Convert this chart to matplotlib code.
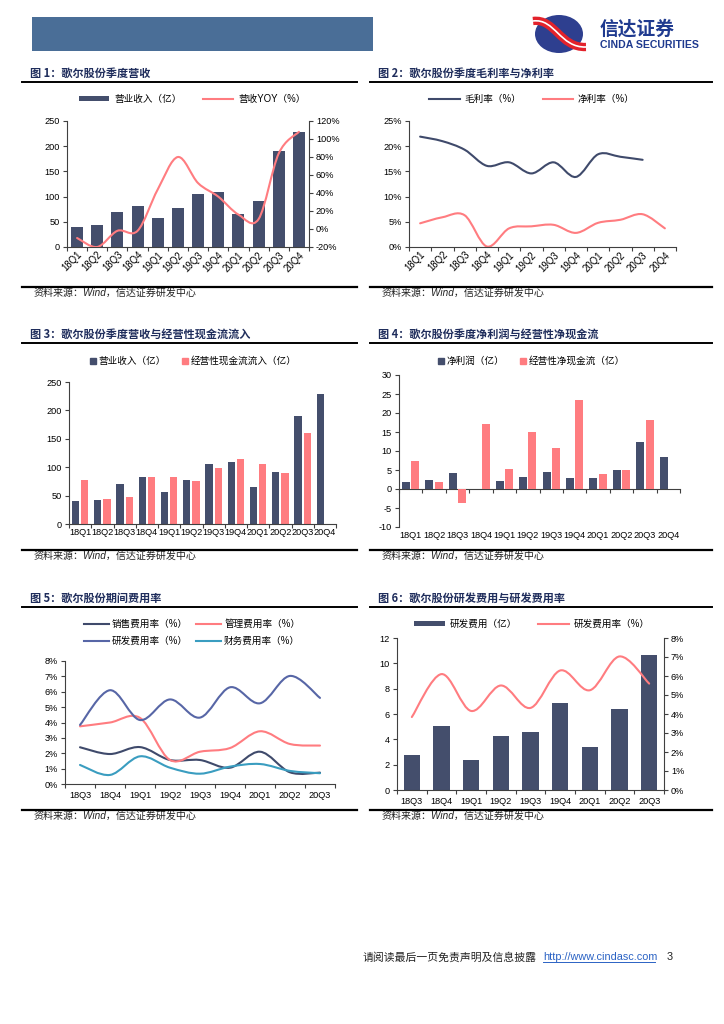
import numpy as np
import matplotlib
matplotlib.use("Agg")
import matplotlib.pyplot as plt
from matplotlib.lines import Line2D
from matplotlib.patches import Patch, PathPatch, Ellipse, Rectangle
from matplotlib.path import Path
from matplotlib.ticker import FuncFormatter

plt.rcParams['font.family'] = ['Liberation Sans', 'Noto Sans CJK SC', 'DejaVu Sans']
plt.rcParams['axes.unicode_minus'] = False

# ---- data ----
quarters = ['18Q1', '18Q2', '18Q3', '18Q4', '19Q1', '19Q2', '19Q3', '19Q4',
            '20Q1', '20Q2', '20Q3', '20Q4']
revenue = [40, 43, 70, 82, 57, 78, 105, 110, 65, 91, 191, 228]
revenue_yoy = [-10, -20, -2, -2, 44, 80, 51, 36, 16, 11, 84, 108]
gross_margin = [21.9, 21.0, 19.3, 16.1, 16.8, 14.6, 16.8, 13.9, 18.4, 17.9, 17.3]
net_margin = [4.7, 5.9, 6.3, 0.1, 3.7, 4.1, 4.4, 2.8, 4.8, 5.4, 6.5, 3.7]
cash_inflow = [77, 44, 48, 82, 82, 76, 99, 115, 106, 90, 160]
net_profit = [1.8, 2.4, 4.1, 0.0, 2.0, 3.2, 4.6, 3.0, 2.9, 4.9, 12.3, 8.4]
net_cash = [7.4, 1.9, -3.7, 17.0, 5.2, 15.1, 10.7, 23.4, 4.0, 5.0, 18.1]

quarters2 = ['18Q3', '18Q4', '19Q1', '19Q2', '19Q3', '19Q4', '20Q1', '20Q2', '20Q3']
sales_rate = [2.39, 1.95, 2.40, 1.56, 1.56, 1.06, 2.10, 0.76, 0.74]
admin_rate = [3.75, 4.00, 4.30, 1.56, 2.10, 2.34, 3.43, 2.60, 2.50]
rd_rate = [3.84, 6.10, 4.16, 5.50, 4.32, 6.29, 5.25, 7.03, 5.60]
fin_rate = [1.24, 0.59, 1.80, 1.06, 0.67, 1.13, 1.30, 0.85, 0.70]
rd_expense = [2.74, 5.04, 2.40, 4.30, 4.56, 6.86, 3.40, 6.36, 10.69]

NAVY = '#444e6c'
PINK = '#ff7c80'
BLUE = '#5766a6'
TEAL = '#3a9dc0'
AXC = '#404040'
TFS = 6.6
LFS = 6.9

W, H = 724, 1024
fig = plt.figure(figsize=(7.24, 10.24), dpi=100)


def fx(x):
    return x / W


def fy(y):
    return 1 - y / H


def add_ax(l, t, r, b):
    return fig.add_axes([l / W, 1 - b / H, (r - l) / W, (b - t) / H])


def hline(x1, x2, y, lw=1.4, color='black'):
    fig.add_artist(Line2D([fx(x1), fx(x2)], [fy(y), fy(y)], transform=fig.transFigure,
                          lw=lw, color=color))


def smooth(ax, xs, ys, color, lw=1.5):
    # Bezier smoothing of the line through the data points (Excel style)
    pts = list(zip(xs, ys))
    n = len(pts)
    verts = [pts[0]]
    codes = [Path.MOVETO]
    for i in range(n - 1):
        p0 = pts[i - 1] if i > 0 else pts[i]
        p1 = pts[i]
        p2 = pts[i + 1]
        p3 = pts[i + 2] if i + 2 < n else p2
        c1 = (p1[0] + (p2[0] - p0[0]) / 6, p1[1] + (p2[1] - p0[1]) / 6)
        c2 = (p2[0] - (p3[0] - p1[0]) / 6, p2[1] - (p3[1] - p1[1]) / 6)
        verts += [c1, c2, p2]
        codes += [Path.CURVE4] * 3
    ax.add_patch(PathPatch(Path(verts, codes), fill=False, edgecolor=color, lw=lw,
                           capstyle='round', joinstyle='round'))


def style(ax, labels, rot=False, pad=3):
    n = len(labels)
    for s in ['top', 'right']:
        ax.spines[s].set_visible(False)
    for s in ['left', 'bottom']:
        ax.spines[s].set_color(AXC)
        ax.spines[s].set_linewidth(0.8)
    ax.set_xlim(-0.5, n - 0.5)
    ax.set_xticks(np.arange(n + 1) - 0.5)
    ax.set_xticklabels([])
    ax.set_xticks(np.arange(n), minor=True)
    if rot:
        ax.set_xticklabels(labels, minor=True, rotation=45, ha='right',
                           rotation_mode='anchor', fontsize=TFS + 0.3)
    else:
        ax.set_xticklabels(labels, minor=True, fontsize=TFS)
    ax.tick_params(axis='x', which='major', length=3, width=0.8, color=AXC)
    ax.tick_params(axis='x', which='minor', length=0, pad=pad)
    ax.tick_params(axis='y', length=3, width=0.8, color=AXC, labelsize=TFS, pad=2)


pct = FuncFormatter(lambda v, p: '%d%%' % round(v))


def title(x, y, txt, x2):
    fig.text(fx(x), fy(y), txt, fontsize=8, fontweight='bold', color='#1f2d5c',
             va='center', ha='left', family=['Noto Sans CJK SC', 'DejaVu Sans'])
    hline(x - 8, x2, y + 9, lw=1.4)


def source(x, y, x2):
    hline(x - 8, x2, y - 6, lw=1.6)
    fig.text(fx(x + 4), fy(y), '资料来源：Wind，信达证券研发中心', fontsize=7.2, style='italic',
             color='#222222', va='center', ha='left')


# ---- header ----
fig.add_artist(Rectangle((fx(32), fy(51)), (373 - 32) / W, 34 / H, transform=fig.transFigure,
                         fc='#4a6e97', ec='none'))
fig.add_artist(Ellipse((fx(559), fy(34)), 48 / W, 38 / H, transform=fig.transFigure,
                       fc='#2e3f8f', ec='none'))
sw = Path([(fx(533), fy(21)), (fx(555), fy(18)), (fx(560), fy(48)), (fx(586), fy(47))],
          [Path.MOVETO, Path.CURVE4, Path.CURVE4, Path.CURVE4])
fig.add_artist(PathPatch(sw, transform=fig.transFigure, fill=False, ec='#e3222b', lw=6))
fig.add_artist(PathPatch(sw, transform=fig.transFigure, fill=False, ec='white', lw=1.2))
fig.text(fx(600), fy(29), '信达证券', fontsize=13.5, fontweight='bold', color='#1f3a8f',
         va='center', ha='left', family=['Noto Sans CJK SC', 'DejaVu Sans'])
fig.text(fx(600), fy(44.5), 'CINDA SECURITIES', fontsize=7.6, fontweight='bold',
         color='#1f3a8f', va='center', ha='left')

# ---- chart 1 ----
title(30, 73, '图 1：歌尔股份季度营收', 357)
ax1 = add_ax(67, 121, 309, 247)
x12 = np.arange(len(quarters))
ax1.bar(x12, revenue, width=0.6, color=NAVY, zorder=2)
ax1.set_ylim(0, 250)
ax1.set_yticks(np.arange(0, 251, 50))
style(ax1, quarters, rot=True, pad=2)
ax1b = ax1.twinx()
ax1b.set_ylim(-20, 120)
ax1b.set_yticks(np.arange(-20, 121, 20))
ax1b.yaxis.set_major_formatter(pct)
for s in ['top', 'left', 'bottom']:
    ax1b.spines[s].set_visible(False)
ax1b.spines['right'].set_color(AXC)
ax1b.spines['right'].set_linewidth(0.8)
ax1b.tick_params(axis='y', length=3, width=0.8, color=AXC, labelsize=TFS, pad=2)
smooth(ax1b, x12, revenue_yoy, PINK)
fig.legend([Patch(fc=NAVY), Line2D([], [], color=PINK, lw=1.5)],
           ['营业收入（亿）', '营收YOY（%）'], loc='center', bbox_to_anchor=(fx(192), fy(99)),
           ncol=2, frameon=False, fontsize=LFS, handlelength=3.2, handleheight=0.55,
           columnspacing=2.2, handletextpad=0.5)
source(30, 293, 357)

# ---- chart 2 ----
title(378, 73, '图 2：歌尔股份季度毛利率与净利率', 712)
ax2 = add_ax(409, 121, 676, 247)
ax2.set_ylim(0, 25)
ax2.set_yticks(np.arange(0, 26, 5))
ax2.yaxis.set_major_formatter(pct)
style(ax2, quarters, rot=True, pad=2)
smooth(ax2, x12[:len(gross_margin)], gross_margin, '#3f4a6b')
smooth(ax2, x12, net_margin, PINK)
fig.legend([Line2D([], [], color='#3f4a6b', lw=1.5), Line2D([], [], color=PINK, lw=1.5)],
           ['毛利率（%）', '净利率（%）'], loc='center', bbox_to_anchor=(fx(532), fy(99)),
           ncol=2, frameon=False, fontsize=LFS, handlelength=3.2, columnspacing=2.2,
           handletextpad=0.5)
source(378, 293, 712)

# ---- chart 3 ----
title(30, 334, '图 3：歌尔股份季度营收与经营性现金流流入', 357)
ax3 = add_ax(69, 382, 336, 524)
ax3.bar(x12 - 0.21, revenue, width=0.33, color=NAVY, zorder=2)
ax3.bar(x12[:len(cash_inflow)] + 0.21, cash_inflow, width=0.33, color=PINK, zorder=2)
ax3.set_ylim(0, 250)
ax3.set_yticks(np.arange(0, 251, 50))
style(ax3, quarters, pad=3)
fig.legend([Line2D([], [], marker='s', ls='', color=NAVY, markersize=4),
            Line2D([], [], marker='s', ls='', color=PINK, markersize=4)],
           ['营业收入（亿）', '经营性现金流流入（亿）'], loc='center',
           bbox_to_anchor=(fx(193), fy(361)), ncol=2, frameon=False, fontsize=LFS,
           handlelength=0.8, handletextpad=0.2, columnspacing=1.6)
source(30, 556, 357)

# ---- chart 4 ----
title(378, 334, '图 4：歌尔股份季度净利润与经营性净现金流', 712)
ax4 = add_ax(399, 375, 680, 527)
ax4.bar(x12 - 0.2, net_profit, width=0.34, color=NAVY, zorder=2)
ax4.bar(x12[:len(net_cash)] + 0.2, net_cash, width=0.34, color=PINK, zorder=2)
ax4.set_ylim(-10, 30)
ax4.set_yticks(np.arange(-10, 31, 5))
style(ax4, quarters, pad=3)
ax4.spines['bottom'].set_visible(False)
ax4.tick_params(axis='x', which='major', length=0)
sec = ax4.secondary_xaxis(0.25)
sec.set_xticks(np.arange(len(quarters) + 1) - 0.5)
sec.set_xticklabels([])
sec.spines['bottom'].set_color(AXC)
sec.spines['bottom'].set_linewidth(0.8)
sec.tick_params(axis='x', length=3, width=0.8, color=AXC)
fig.legend([Line2D([], [], marker='s', ls='', color=NAVY, markersize=4),
            Line2D([], [], marker='s', ls='', color=PINK, markersize=4)],
           ['净利润（亿）', '经营性净现金流（亿）'], loc='center',
           bbox_to_anchor=(fx(531), fy(361)), ncol=2, frameon=False, fontsize=LFS,
           handlelength=0.8, handletextpad=0.2, columnspacing=1.6)
source(378, 556, 712)

# ---- chart 5 ----
title(30, 598, '图 5：歌尔股份期间费用率', 357)
ax5 = add_ax(65, 661, 335, 784)
x9 = np.arange(len(quarters2))
ax5.set_ylim(0, 8)
ax5.set_yticks(np.arange(0, 9, 1))
ax5.yaxis.set_major_formatter(pct)
style(ax5, quarters2, pad=5)
smooth(ax5, x9, sales_rate, '#3f4a6b')
smooth(ax5, x9, admin_rate, PINK)
smooth(ax5, x9, rd_rate, BLUE)
smooth(ax5, x9, fin_rate, TEAL)
fig.legend([Line2D([], [], color='#3f4a6b', lw=1.5), Line2D([], [], color=BLUE, lw=1.5),
            Line2D([], [], color=PINK, lw=1.5), Line2D([], [], color=TEAL, lw=1.5)],
           ['销售费用率（%）', '研发费用率（%）', '管理费用率（%）', '财务费用率（%）'],
           loc='center', bbox_to_anchor=(fx(192), fy(632.5)), ncol=2, frameon=False,
           fontsize=LFS, handlelength=2.6, handletextpad=0.3, columnspacing=0.9,
           labelspacing=0.75)
source(30, 816, 357)

# ---- chart 6 ----
title(378, 598, '图 6：歌尔股份研发费用与研发费用率', 712)
ax6 = add_ax(397, 638, 664, 790)
ax6.bar(x9, rd_expense, width=0.55, color=NAVY, zorder=2)
ax6.set_ylim(0, 12)
ax6.set_yticks(np.arange(0, 13, 2))
style(ax6, quarters2, pad=5)
ax6b = ax6.twinx()
ax6b.set_ylim(0, 8)
ax6b.set_yticks(np.arange(0, 9, 1))
ax6b.yaxis.set_major_formatter(pct)
for s in ['top', 'left', 'bottom']:
    ax6b.spines[s].set_visible(False)
ax6b.spines['right'].set_color(AXC)
ax6b.spines['right'].set_linewidth(0.8)
ax6b.tick_params(axis='y', length=3, width=0.8, color=AXC, labelsize=TFS, pad=2)
smooth(ax6b, x9, rd_rate, PINK)
fig.legend([Patch(fc=NAVY), Line2D([], [], color=PINK, lw=1.5)],
           ['研发费用（亿）', '研发费用率（%）'], loc='center', bbox_to_anchor=(fx(532), fy(624)),
           ncol=2, frameon=False, fontsize=LFS, handlelength=3.2, handleheight=0.55,
           columnspacing=2.2, handletextpad=0.5)
source(378, 816, 712)

# ---- footer ----
fig.text(fx(363), fy(957), '请阅读最后一页免责声明及信息披露', fontsize=7.8, color='#222222',
         va='center', ha='left', family=['Noto Sans CJK SC', 'DejaVu Sans'])
fig.text(fx(543), fy(957), 'http://www.cindasc.com', fontsize=7.8, color='#2a62c4',
         va='center', ha='left')
hline(543, 655, 962, lw=0.7, color='#2a62c4')
fig.text(fx(667), fy(957), '3', fontsize=7.8, color='#222222', va='center', ha='left')

fig.savefig('out.png', dpi=100)
